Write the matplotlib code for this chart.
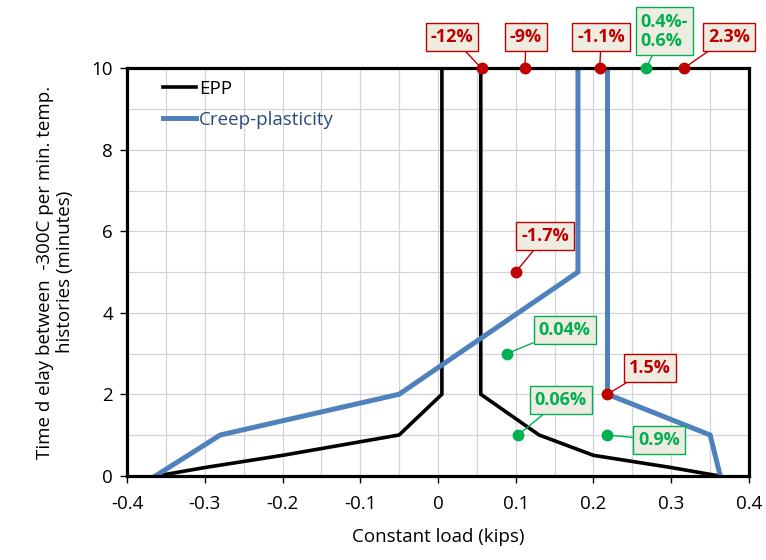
import numpy as np
import matplotlib.pyplot as plt

plt.rcParams['font.family'] = ['Open Sans', 'DejaVu Sans']

# EPP envelope (x = constant load, y = time delay)
epp_x = [-0.36, -0.30, -0.20, -0.05, 0.005, 0.005]
epp_y = [0, 0.2, 0.5, 1, 2, 10]
epp_rx = [0.36, 0.30, 0.20, 0.13, 0.055, 0.055]
epp_ry = [0, 0.2, 0.5, 1, 2, 10]

# creep-plasticity envelope
cp_x = [-0.363, -0.28, -0.05, 0.18, 0.18]
cp_y = [0, 1, 2, 5, 10]
cp_rx = [0.363, 0.35, 0.218, 0.218]
cp_ry = [0, 1, 2, 10]

# labelled points
pt_x = [0.056, 0.112, 0.208, 0.2675, 0.316, 0.10, 0.089, 0.218, 0.103, 0.217]
pt_y = [10, 10, 10, 10, 10, 5, 3, 2, 1, 1]
pt_lbl = ['-12%', '-9%', '-1.1%', '0.4%-\n0.6%', '2.3%', '-1.7%', '0.04%', '1.5%', '0.06%', '0.9%']
pt_good = [False, False, False, True, False, False, True, False, True, True]

# label box positions (data coords)
lbl_pos = [(0.018, 10.77), (0.113, 10.77), (0.210, 10.77), (0.291, 10.91), (0.374, 10.77),
           (0.138, 5.88), (0.163, 3.58), (0.273, 2.64), (0.158, 1.86), (0.284, 0.88)]

RED = '#c00000'
GREEN = '#00b050'
BLUE = '#4f81bd'

fig = plt.figure(figsize=(7.66, 5.6), dpi=100)
ax = fig.add_axes([0.1658, 0.1505, 0.812, 0.7275])

ax.plot(epp_x, epp_y, color='black', lw=2.6, label='EPP', solid_joinstyle='miter')
ax.plot(epp_rx, epp_ry, color='black', lw=2.6, solid_joinstyle='miter')
ax.plot(cp_x, cp_y, color=BLUE, lw=3.6, label='Creep-plasticity', solid_joinstyle='miter')
ax.plot(cp_rx, cp_ry, color=BLUE, lw=3.6, solid_joinstyle='miter')

for x, y, s, good, (tx, ty) in zip(pt_x, pt_y, pt_lbl, pt_good, lbl_pos):
    c = GREEN if good else RED
    ax.plot(x, y, 'o', color=c, ms=7.5, clip_on=False, zorder=6)
    ax.annotate(s, xy=(x, y), xytext=(tx, ty), textcoords='data',
                ha='center', va='center', multialignment='left',
                fontsize=13, fontweight='bold', color=c, annotation_clip=False,
                linespacing=1.1,
                bbox=dict(boxstyle='square,pad=0.28', fc='#eeece1', ec=c, lw=1),
                arrowprops=dict(arrowstyle='-', color=c, lw=1, shrinkA=0, shrinkB=0),
                zorder=7)

ax.set_xlim(-0.4, 0.4)
ax.set_ylim(0, 10)
ax.set_xticks(np.arange(-0.4, 0.41, 0.1))
ax.set_xticklabels(['-0.4', '-0.3', '-0.2', '-0.1', '0', '0.1', '0.2', '0.3', '0.4'])
ax.set_xticks(np.arange(-0.4, 0.41, 0.05), minor=True)
ax.set_yticks(np.arange(0, 11, 2))
ax.set_yticks(np.arange(0, 11, 1), minor=True)
ax.grid(which='both', color='#d4d4d4', lw=0.9)
ax.set_axisbelow(True)
ax.tick_params(which='major', direction='out', length=5, width=1, labelsize=13.5, pad=5)
ax.tick_params(axis='x', which='major', pad=9)
ax.tick_params(which='minor', length=0)

for sp in ax.spines.values():
    sp.set_linewidth(2.3)
    sp.set_color('black')

ax.set_xlabel('Constant load (kips)', fontsize=13.5, labelpad=11)
ax.set_ylabel('Time d elay between  -300C per min. temp.\nhistories (minutes)',
              fontsize=13.5, linespacing=1.1, labelpad=13)

leg = ax.legend(loc='upper left', bbox_to_anchor=(0.03, 1.013), frameon=False,
                fontsize=13.5, handlelength=1.8, handletextpad=0.15, labelspacing=0.7)
leg.get_texts()[1].set_color('#2a4a7f')

fig.savefig('out.png', dpi=100)
